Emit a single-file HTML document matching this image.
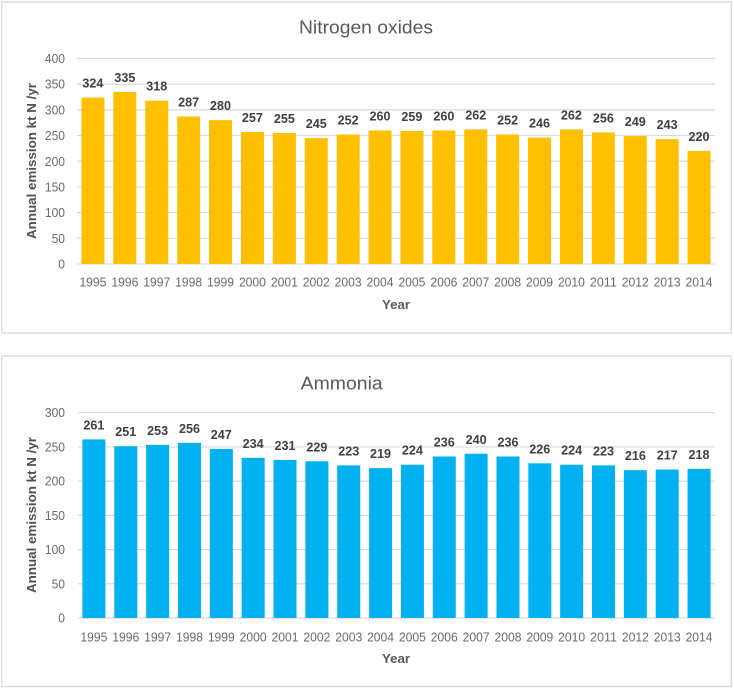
<!DOCTYPE html>
<html lang="en">
<head>
<meta charset="utf-8">
<title>Annual emissions: nitrogen oxides and ammonia</title>
<style>
html,body{margin:0;padding:0;background:#fff;width:734px;height:689px;overflow:hidden}
svg{display:block;font-family:"Liberation Sans",sans-serif;filter:blur(.35px)}
</style>
</head>
<body>
<svg id="figure" width="734" height="689" viewBox="0 0 734 689" xmlns="http://www.w3.org/2000/svg"></svg>
<script>
const years = ["1995","1996","1997","1998","1999","2000","2001","2002","2003","2004","2005","2006","2007","2008","2009","2010","2011","2012","2013","2014"];
const noxValues = [324,335,318,287,280,257,255,245,252,260,259,260,262,252,246,262,256,249,243,220];
const ammoniaValues = [261,251,253,256,247,234,231,229,223,219,224,236,240,236,226,224,223,216,217,218];
const noxTicks = [0,50,100,150,200,250,300,350,400];
const ammoniaTicks = [0,50,100,150,200,250,300];
const noxTitle = "Nitrogen oxides";
const ammoniaTitle = "Ammonia";
const yAxisLabel = "Annual emission kt N /yr";
const xAxisLabel = "Year";

const NS = "http://www.w3.org/2000/svg";
const svg = document.getElementById("figure");

function make(parent, tag, attrs, text) {
  const el = document.createElementNS(NS, tag);
  for (const k in attrs) el.setAttribute(k, attrs[k]);
  if (text !== undefined) el.textContent = text;
  parent.appendChild(el);
  return el;
}

function drawChart(cfg) {
  const g = make(svg, "g", {});
  
  

  const frame = make(g, "rect", {x:cfg.fx, y:cfg.fy, width:cfg.fw, height:cfg.fh, fill:"#fff", stroke:"#dcdcdc", "stroke-width":1.5});
  
  

  const maxTick = cfg.ticks[cfg.ticks.length - 1];
  const yScale = v => cfg.y0 - (v / maxTick) * (cfg.y0 - cfg.yTop);
  const band = (cfg.xR - cfg.xL) / cfg.categories.length;
  const xCenter = i => cfg.xL + band * (i + 0.5);
  const barW = 23;

  const title = make(g, "text", {x:cfg.titleX, y:cfg.titleY, "text-anchor":"middle", "font-size":18.5, fill:"#595959", textLength:cfg.titleLen, lengthAdjust:"spacingAndGlyphs"}, cfg.title);
  
  

  cfg.ticks.forEach(t => {
    const line = make(g, "line", {x1:cfg.xL, x2:cfg.xR, y1:yScale(t), y2:yScale(t), stroke:"#d9d9d9", "stroke-width":1.2});
    
    
    const lab = make(g, "text", {x:65, y:yScale(t) + 4.5, "text-anchor":"end", "font-size":12.5, fill:"#6a6a6a", textLength:String(t).length * 6.7, lengthAdjust:"spacingAndGlyphs"}, String(t));
    
    
  });

  cfg.categories.forEach((c, i) => {
    const v = cfg.values[i];
    const bar = make(g, "rect", {x:xCenter(i) - barW / 2, y:yScale(v), width:barW, height:cfg.y0 - yScale(v), fill:cfg.color});
    
    
    const val = make(g, "text", {x:xCenter(i), y:yScale(v) - 10, "text-anchor":"middle", "font-size":12.5, "font-weight":"bold", fill:"#404040", textLength:21, lengthAdjust:"spacingAndGlyphs"}, String(v));
    
    
    const lab = make(g, "text", {x:xCenter(i), y:cfg.xLabelY, "text-anchor":"middle", "font-size":12.5, fill:"#6a6a6a", textLength:27, lengthAdjust:"spacingAndGlyphs"}, c);
    
    
  });

  const xt = make(g, "text", {x:396, y:cfg.xTitleY, "text-anchor":"middle", "font-size":13, "font-weight":"bold", fill:"#595959", textLength:28, lengthAdjust:"spacingAndGlyphs"}, xAxisLabel);
  
  

  const yt = make(g, "text", {transform:"translate(36 " + cfg.yTitleC + ") rotate(-90)", "text-anchor":"middle", "font-size":13, "font-weight":"bold", fill:"#505050", textLength:cfg.yTitleLen, lengthAdjust:"spacingAndGlyphs"}, yAxisLabel);
  
  
}

drawChart({key:"nitrogen-oxides", fx:1.75, fy:2, fw:729.5, fh:331, xL:77, xR:715, y0:264, yTop:58.5,
  ticks:noxTicks, categories:years, values:noxValues, color:"#FFC000", title:noxTitle,
  titleX:366, titleY:33.5, titleLen:134, xLabelY:286.5, xTitleY:309, yTitleC:161, yTitleLen:156});
drawChart({key:"ammonia", fx:1.75, fy:356, fw:729.5, fh:330.5, xL:78, xR:715, y0:618, yTop:412.7,
  ticks:ammoniaTicks, categories:years, values:ammoniaValues, color:"#00B0F0", title:ammoniaTitle,
  titleX:341.7, titleY:389.5, titleLen:82, xLabelY:641.5, xTitleY:663, yTitleC:515, yTitleLen:156});
</script>
</body>
</html>
